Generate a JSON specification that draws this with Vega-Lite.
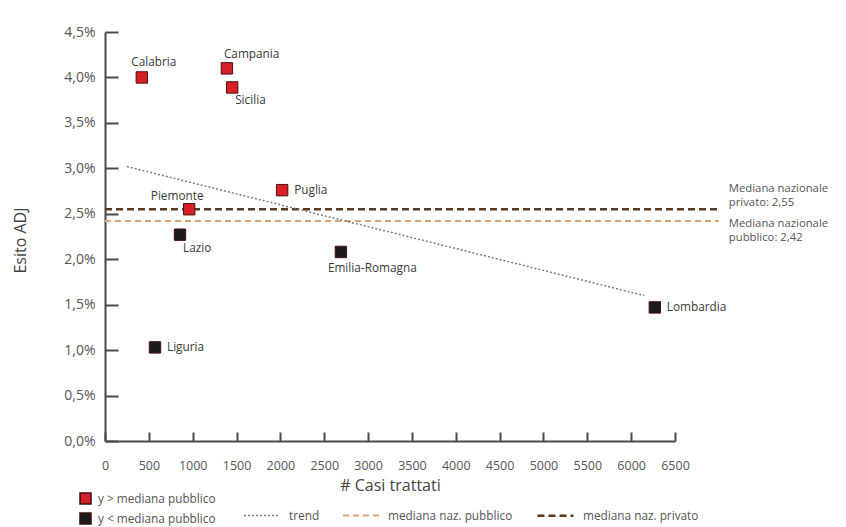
{
  "$schema": "https://vega.github.io/schema/vega-lite/v6.json",
  "width": 570,
  "height": 409,
  "autosize": {"type": "none"},
  "padding": {"left": 105, "top": 32, "right": 171, "bottom": 86},
  "background": "white",
  "config": {
    "view": {"stroke": null},
    "font": "Open Sans",
    "text": {"font": "Open Sans", "fontSize": 11.8, "color": "#3a3a3a"},
    "axis": {"grid": false, "domainColor": "#4a4a4a", "domainWidth": 2, "tickColor": "#4a4a4a", "tickWidth": 2, "labelFont": "Open Sans", "labelColor": "#555555", "titleFont": "Open Sans", "titleColor": "#444444", "titleFontWeight": "normal"}
  },
  "datasets": {
    "regions": [
      {"region": "Calabria", "casi": 420, "esito": 4.00, "group": "y > mediana pubblico"},
      {"region": "Campania", "casi": 1390, "esito": 4.10, "group": "y > mediana pubblico"},
      {"region": "Sicilia", "casi": 1450, "esito": 3.89, "group": "y > mediana pubblico"},
      {"region": "Puglia", "casi": 2020, "esito": 2.76, "group": "y > mediana pubblico"},
      {"region": "Piemonte", "casi": 960, "esito": 2.55, "group": "y > mediana pubblico"},
      {"region": "Lazio", "casi": 855, "esito": 2.27, "group": "y < mediana pubblico"},
      {"region": "Emilia-Romagna", "casi": 2690, "esito": 2.08, "group": "y < mediana pubblico"},
      {"region": "Liguria", "casi": 570, "esito": 1.03, "group": "y < mediana pubblico"},
      {"region": "Lombardia", "casi": 6270, "esito": 1.47, "group": "y < mediana pubblico"}
    ],
    "medians": [
      {"series": "mediana naz. pubblico", "esito": 2.42, "casi": 0, "casiEnd": 7000, "label": "Mediana nazionale\npubblico: 2,42"},
      {"series": "mediana naz. privato", "esito": 2.55, "casi": 0, "casiEnd": 7000, "label": "Mediana nazionale\nprivato: 2,55"}
    ],
    "trend": [
      {"series": "trend", "casi": 250, "esito": 3.02},
      {"series": "trend", "casi": 6150, "esito": 1.60}
    ]
  },
  "encoding": {
    "x": {"field": "casi", "type": "quantitative", "scale": {"domain": [0, 6500], "nice": false},
      "axis": {"title": "# Casi trattati", "values": [0,500,1000,1500,2000,2500,3000,3500,4000,4500,5000,5500,6000,6500], "format": "d", "tickSize": -9, "labelPadding": 27, "labelFlush": false, "labelOverlap": false, "labelFontSize": 12.5, "titleFontSize": 16, "titleY": 44, "titleBaseline": "middle"}},
    "y": {"field": "esito", "type": "quantitative", "scale": {"domain": [0, 4.5], "nice": false},
      "axis": {"title": "Esito ADJ", "values": [0,0.5,1,1.5,2,2.5,3,3.5,4,4.5], "labelExpr": "replace(format(datum.value, '.1f'), '.', ',') + '%'", "tickSize": -13, "labelPadding": 23, "labelFlush": false, "labelFontSize": 14, "titleFontSize": 16, "titleX": -85, "titleY": 208, "titleAngle": -90, "titleAlign": "center", "titleBaseline": "middle"}}
  },
  "layer": [
    {
      "data": {"name": "medians"},
      "mark": {"type": "rule"},
      "encoding": {
        "x2": {"field": "casiEnd"},
        "stroke": {"field": "series", "type": "nominal", "scale": {"domain": ["trend", "mediana naz. pubblico", "mediana naz. privato"], "range": ["#7d7d7d", "#d9a57c", "#5a3a20"]}, "legend": {"title": null, "orient": "none", "direction": "horizontal", "legendX": 138, "legendY": 464, "symbolType": "stroke", "symbolSize": 1296, "labelFont": "Open Sans", "labelFontSize": 11.8, "labelColor": "#555555", "columnPadding": 19, "labelOffset": 8}},
        "strokeDash": {"field": "series", "type": "nominal", "scale": {"domain": ["trend", "mediana naz. pubblico", "mediana naz. privato"], "range": [[2, 2], [6, 4], [7, 4]]}, "legend": {"title": null, "orient": "none", "direction": "horizontal", "legendX": 138, "legendY": 464, "symbolType": "stroke", "symbolSize": 1296, "labelFont": "Open Sans", "labelFontSize": 11.8, "labelColor": "#555555", "columnPadding": 19, "labelOffset": 8}},
        "strokeWidth": {"field": "series", "type": "nominal", "scale": {"domain": ["trend", "mediana naz. pubblico", "mediana naz. privato"], "range": [1.5, 2.5, 3]}, "legend": {"title": null, "orient": "none", "direction": "horizontal", "legendX": 138, "legendY": 464, "symbolType": "stroke", "symbolSize": 1296, "labelFont": "Open Sans", "labelFontSize": 11.8, "labelColor": "#555555", "columnPadding": 19, "labelOffset": 8}}
      }
    },
    {
      "data": {"name": "trend"},
      "mark": {"type": "line"},
      "encoding": {
        "stroke": {"field": "series", "type": "nominal"},
        "strokeDash": {"field": "series", "type": "nominal"},
        "strokeWidth": {"field": "series", "type": "nominal"}
      }
    },
    {
      "data": {"name": "medians"},
      "transform": [{"filter": "datum.series === 'mediana naz. privato'"}],
      "mark": {"type": "text", "align": "left", "baseline": "bottom", "dx": 10, "dy": -15, "lineBreak": "\n", "lineHeight": 13.5, "fontSize": 11.3, "color": "#555555"},
      "encoding": {"x": {"field": "casiEnd", "type": "quantitative"}, "text": {"field": "label"}}
    },
    {
      "data": {"name": "medians"},
      "transform": [{"filter": "datum.series === 'mediana naz. pubblico'"}],
      "mark": {"type": "text", "align": "left", "baseline": "top", "dx": 10, "dy": -3, "lineBreak": "\n", "lineHeight": 13.5, "fontSize": 11.3, "color": "#555555"},
      "encoding": {"x": {"field": "casiEnd", "type": "quantitative"}, "text": {"field": "label"}}
    },
    {
      "data": {"name": "regions"},
      "mark": {"type": "point", "shape": "square", "filled": true, "size": 130, "strokeWidth": 1, "opacity": 1},
      "encoding": {
        "fill": {"field": "group", "type": "nominal", "scale": {"domain": ["y > mediana pubblico", "y < mediana pubblico"], "range": ["#d61f26", "#1c1c1c"]}, "legend": {"title": null, "orient": "none", "legendX": -26, "legendY": 460, "symbolType": "square", "symbolSize": 121, "symbolStrokeColor": "#3a1010", "labelFont": "Open Sans", "labelFontSize": 11.8, "labelColor": "#555555", "rowPadding": 3, "labelOffset": 6}},
        "stroke": {"value": "#4a1010"}
      }
    },
    {
      "data": {"name": "regions"},
      "transform": [{"filter": {"field": "region", "oneOf": ["Calabria"]}}],
      "mark": {"type": "text", "align": "center", "baseline": "middle", "dx": 12, "dy": -15},
      "encoding": {"text": {"field": "region"}}
    },
    {
      "data": {"name": "regions"},
      "transform": [{"filter": {"field": "region", "oneOf": ["Campania"]}}],
      "mark": {"type": "text", "align": "left", "baseline": "middle", "dx": -3, "dy": -14},
      "encoding": {"text": {"field": "region"}}
    },
    {
      "data": {"name": "regions"},
      "transform": [{"filter": {"field": "region", "oneOf": ["Piemonte"]}}],
      "mark": {"type": "text", "align": "center", "baseline": "middle", "dx": -12, "dy": -13},
      "encoding": {"text": {"field": "region"}}
    },
    {
      "data": {"name": "regions"},
      "transform": [{"filter": {"field": "region", "oneOf": ["Sicilia", "Lazio"]}}],
      "mark": {"type": "text", "align": "left", "baseline": "middle", "dx": 3, "dy": 13},
      "encoding": {"text": {"field": "region"}}
    },
    {
      "data": {"name": "regions"},
      "transform": [{"filter": {"field": "region", "oneOf": ["Emilia-Romagna"]}}],
      "mark": {"type": "text", "align": "left", "baseline": "middle", "dx": -13, "dy": 16},
      "encoding": {"text": {"field": "region"}}
    },
    {
      "data": {"name": "regions"},
      "transform": [{"filter": {"field": "region", "oneOf": ["Puglia", "Liguria", "Lombardia"]}}],
      "mark": {"type": "text", "align": "left", "baseline": "middle", "dx": 12, "dy": 0},
      "encoding": {"text": {"field": "region"}}
    }
  ]
}
